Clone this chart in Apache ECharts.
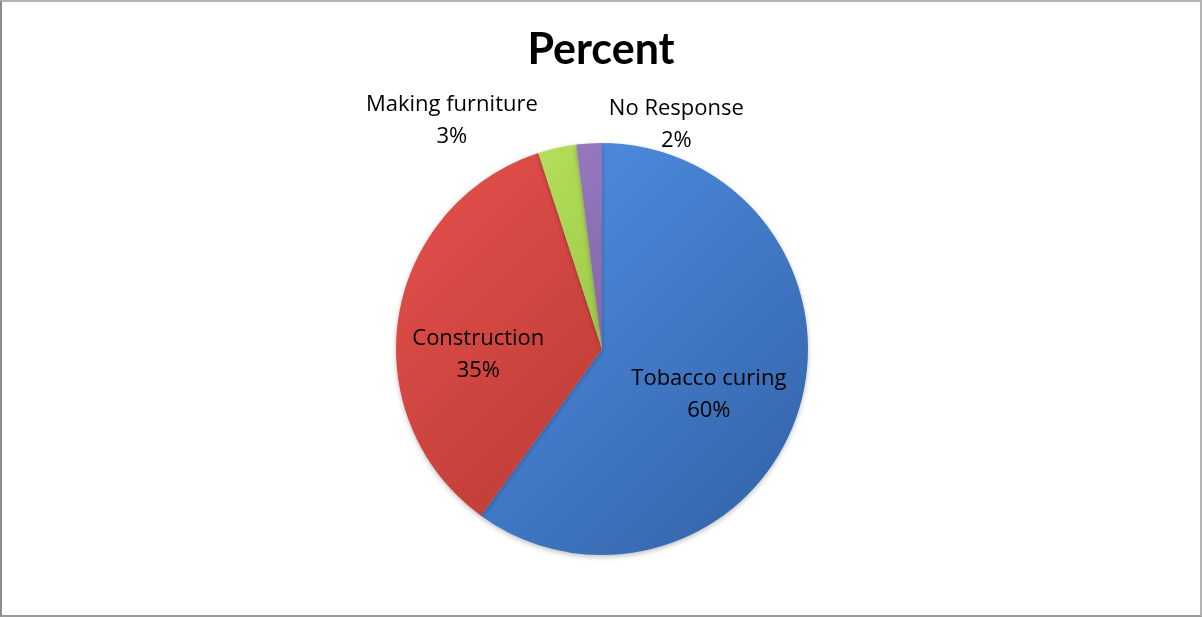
<!DOCTYPE html>
<html>
<head>
<meta charset="utf-8">
<script src="https://cdn.jsdelivr.net/npm/echarts@6/dist/echarts.min.js"></script>
<style>
  html, body { margin: 0; padding: 0; background: #fff; }
  #chart {
    position: absolute; left: 0; top: 0;
    width: 1198px; height: 613px;
    border-top: 2px solid #b4b4b4;
    border-left: 2px solid #8c8c8c;
    border-right: 2px solid #b4b4b4;
    border-bottom: 2px solid #9a9a9a;
    background: #fff;
  }
</style>
</head>
<body>
<div id="chart"></div>
<script>
// Uses of the wood, in percent
const categories = ['Tobacco curing', 'Construction', 'Making furniture', 'No Response'];
const percents = [60, 35, 3, 2];

const CX = 600, CY = 347, R = 206;

// two-tone fills, lighter top-left, darker bottom-right
const tones = [
  ['#4f8fe4', '#3769b0'],
  ['#de4c48', '#b0372f'],
  ['#b4e05a', '#86b236'],
  ['#9a7cc4', '#6c4f92']
];
function fill(i) {
  return {
    type: 'linear', global: true,
    x: CX - R * 0.7, y: CY - R * 0.7, x2: CX + R * 0.7, y2: CY + R * 0.7,
    colorStops: [
      { offset: 0, color: tones[i][0] },
      { offset: 1, color: tones[i][1] }
    ]
  };
}

// label nudges from the slice's inside anchor
const labelOffsets = [[6, 13], [-19, 22], [-127, -125], [81, -118]];

const chart = echarts.init(document.getElementById('chart'), null, { renderer: 'canvas' });
chart.setOption({
  animation: false,
  title: {
    text: 'Percent',
    left: 'center',
    top: 22,
    textStyle: { fontFamily: 'Lato', fontWeight: 'bold', fontSize: 43, color: '#000' }
  },
  series: [{
    type: 'pie',
    center: [CX, CY],
    radius: [0, R],
    startAngle: 90,
    clockwise: true,
    avoidLabelOverlap: false,
    itemStyle: {
      borderWidth: 0,
      shadowColor: 'rgba(0,0,0,0.25)',
      shadowBlur: 5,
      shadowOffsetY: 2
    },
    label: {
      show: true,
      position: 'inside',
      fontFamily: 'Open Sans',
      fontSize: 22,
      lineHeight: 32,
      color: '#000',
      formatter: p => p.name + '\n' + p.value + '%'
    },
    labelLine: { show: false },
    data: categories.map((name, i) => ({
      name,
      value: percents[i],
      itemStyle: { color: fill(i) },
      label: { offset: labelOffsets[i] }
    }))
  }]
});
</script>
</body>
</html>
